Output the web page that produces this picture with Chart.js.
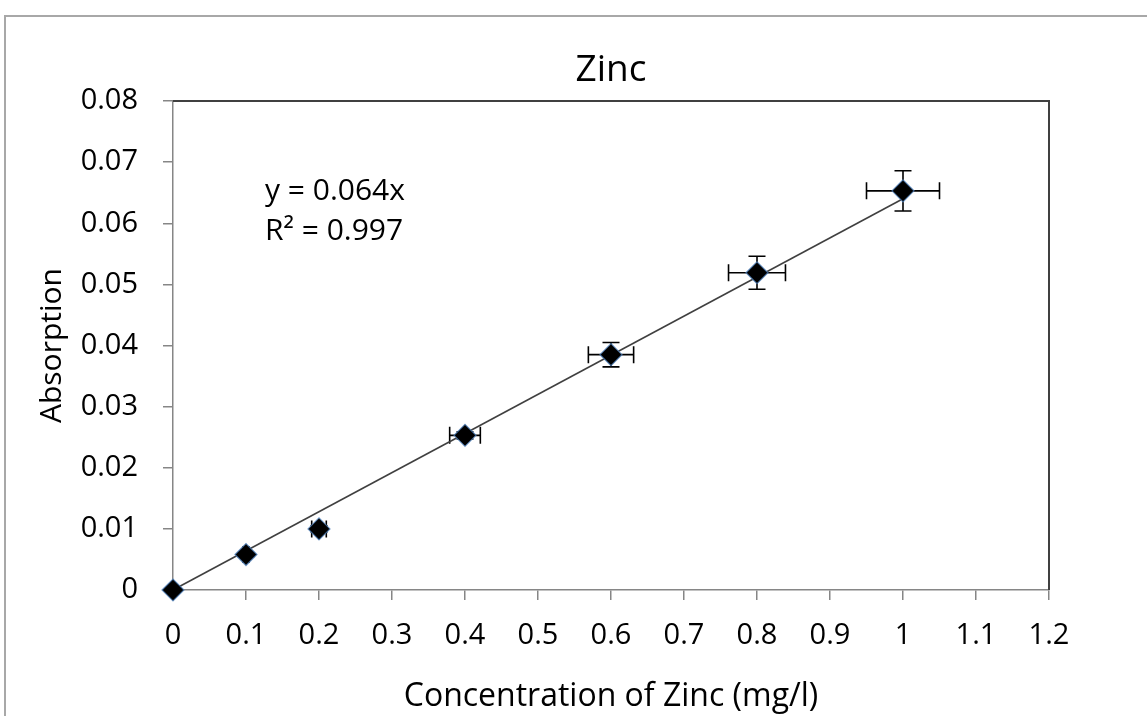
<!DOCTYPE html>
<html>
<head>
<meta charset="utf-8">
<script src="https://cdn.jsdelivr.net/npm/chart.js@4/dist/chart.umd.min.js"></script>
<style>
  html, body { margin: 0; padding: 0; background: #fff; overflow: hidden; }
  #frame { position: absolute; left: 4px; top: 15px; width: 1300px; height: 900px; border: 2px solid #a8a8a8; }
  #zinc { position: absolute; left: 0; top: 0; }
</style>
</head>
<body>
<div id="frame"></div>
<canvas id="zinc" width="1147" height="716"></canvas>
<script>
// measured standards
const concentration = [0, 0.1, 0.2, 0.4, 0.6, 0.8, 1.0];
const absorption = [0, 0.0058, 0.0100, 0.0253, 0.0385, 0.0519, 0.0653];
const concErr = [0, 0.004, 0.01, 0.021, 0.031, 0.039, 0.05];
const absErr = [0, 0.0003, 0.0005, 0.0006, 0.002, 0.0027, 0.0033];

// linear fit through origin
const trendSlope = 0.064;
const trendRange = [0, 1.0];
const fitText = ["y = 0.064x", "R\u00B2 = 0.997"];

const xTicks = [0, 0.1, 0.2, 0.3, 0.4, 0.5, 0.6, 0.7, 0.8, 0.9, 1, 1.1, 1.2];
const xTickLabels = ["0", "0.1", "0.2", "0.3", "0.4", "0.5", "0.6", "0.7", "0.8", "0.9", "1", "1.1", "1.2"];
const yTicks = [0, 0.01, 0.02, 0.03, 0.04, 0.05, 0.06, 0.07, 0.08];
const yTickLabels = ["0", "0.01", "0.02", "0.03", "0.04", "0.05", "0.06", "0.07", "0.08"];

const FONT = "'Open Sans', 'Liberation Sans', sans-serif";

const errorBars = {
  id: "errorBars",
  beforeDatasetsDraw(chart) {
    const { ctx, scales: { x, y } } = chart;
    const cap = 8.5;
    ctx.save();
    ctx.strokeStyle = "#000";
    ctx.lineWidth = 1.6;
    concentration.forEach((c, i) => {
      const px = x.getPixelForValue(c);
      const py = y.getPixelForValue(absorption[i]);
      if (concErr[i] > 0) {
        const x0 = x.getPixelForValue(c - concErr[i]);
        const x1 = x.getPixelForValue(c + concErr[i]);
        ctx.beginPath();
        ctx.moveTo(x0, py); ctx.lineTo(x1, py);
        ctx.moveTo(x0, py - cap); ctx.lineTo(x0, py + cap);
        ctx.moveTo(x1, py - cap); ctx.lineTo(x1, py + cap);
        ctx.stroke();
      }
      if (absErr[i] > 0) {
        const y0 = y.getPixelForValue(absorption[i] - absErr[i]);
        const y1 = y.getPixelForValue(absorption[i] + absErr[i]);
        ctx.beginPath();
        ctx.moveTo(px, y0); ctx.lineTo(px, y1);
        ctx.moveTo(px - cap, y0); ctx.lineTo(px + cap, y0);
        ctx.moveTo(px - cap, y1); ctx.lineTo(px + cap, y1);
        ctx.stroke();
      }
    });
    ctx.restore();
  }
};

const plotFrame = {
  id: "plotFrame",
  afterDraw(chart) {
    const { ctx, chartArea: a } = chart;
    ctx.save();
    ctx.strokeStyle = "#404040";
    ctx.lineWidth = 2;
    ctx.beginPath();
    ctx.moveTo(a.left, a.top);
    ctx.lineTo(a.right, a.top);
    ctx.lineTo(a.right, a.bottom);
    ctx.stroke();
    // fit equation
    ctx.fillStyle = "#000";
    ctx.font = "30px " + FONT;
    ctx.textBaseline = "middle";
    ctx.fillText(fitText[0], a.left + 92, a.top + 90);
    ctx.fillText(fitText[1], a.left + 92, a.top + 130);
    ctx.restore();
  }
};

new Chart(document.getElementById("zinc"), {
  type: "scatter",
  data: {
    datasets: [
      {
        label: "Zinc",
        data: concentration.map((c, i) => ({ x: c, y: absorption[i] })),
        pointStyle: "rectRot",
        pointRadius: 11,
        backgroundColor: "#000",
        borderColor: "rgba(79,129,189,0.75)",
        borderWidth: 1.2,
        clip: false,
        order: 0
      },
      {
        label: "Linear",
        data: trendRange.map(v => ({ x: v, y: trendSlope * v })),
        showLine: true,
        pointRadius: 0,
        borderColor: "#404040",
        borderWidth: 1.6,
        order: 1
      }
    ]
  },
  options: {
    responsive: false,
    animation: false,
    devicePixelRatio: 1,
    layout: { padding: { left: 0, right: 98, top: 0, bottom: 0 } },
    plugins: {
      legend: { display: false },
      tooltip: { enabled: false },
      title: {
        display: true,
        fullSize: false,
        text: "Zinc",
        color: "#000",
        font: { family: FONT, size: 37, weight: "normal" },
        padding: { top: 48, bottom: 8.6 }
      }
    },
    scales: {
      x: {
        type: "linear",
        min: 0,
        max: 1.2,
        afterFit: s => { s.height = 126; },
        afterBuildTicks: s => { s.ticks = xTicks.map(v => ({ value: v })); },
        ticks: {
          color: "#000",
          padding: 18,
          maxRotation: 0,
          font: { family: FONT, size: 29 },
          callback: (v, i) => xTickLabels[i]
        },
        grid: { drawOnChartArea: false, tickLength: 10, color: "#868686", lineWidth: 1.5 },
        border: { color: "#868686", width: 1.5 },
        title: {
          display: true,
          text: "Concentration of Zinc (mg/l)",
          color: "#000",
          font: { family: FONT, size: 32 },
          padding: { top: 0, bottom: 0 }
        }
      },
      y: {
        type: "linear",
        min: 0,
        max: 0.08,
        afterFit: s => { s.width = 173; },
        afterBuildTicks: s => { s.ticks = yTicks.map(v => ({ value: v })); },
        ticks: {
          color: "#000",
          padding: 25,
          font: { family: FONT, size: 29 },
          callback: (v, i) => yTickLabels[i]
        },
        grid: { drawOnChartArea: false, tickLength: 10, color: "#868686", lineWidth: 1.5 },
        border: { color: "#868686", width: 1.5 },
        title: {
          display: true,
          text: "Absorption",
          color: "#000",
          font: { family: FONT, size: 30 },
          padding: { top: 34, bottom: 0 }
        }
      }
    }
  },
  plugins: [errorBars, plotFrame]
});
</script>
</body>
</html>
